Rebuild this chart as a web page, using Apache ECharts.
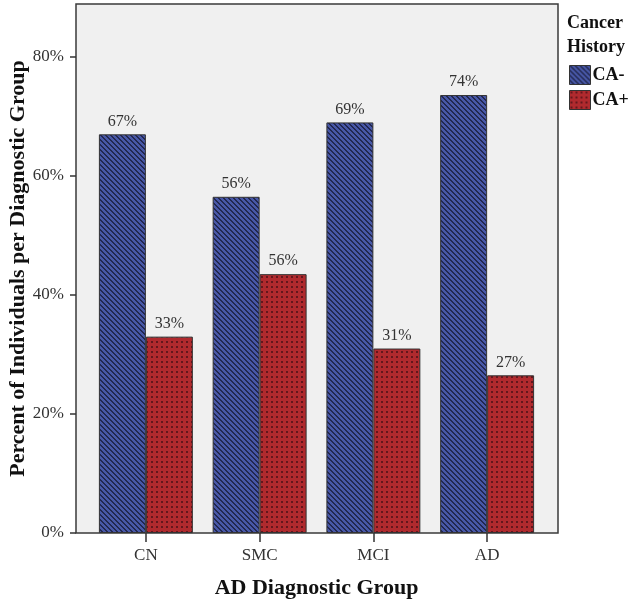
<!DOCTYPE html>
<html>
<head>
<meta charset="utf-8">
<script src="https://cdn.jsdelivr.net/npm/echarts@6/dist/echarts.min.js"></script>
<style>
html,body{margin:0;padding:0;background:#fff;}
#chart{width:630px;height:601px;}
</style>
</head>
<body>
<div id="chart"></div>
<script>
var categories = ['CN', 'SMC', 'MCI', 'AD'];
var caMinus = [67, 56.5, 69, 73.6];
var caPlus = [33, 43.5, 31, 26.5];
var caMinusLabels = ['67%', '56%', '69%', '74%'];
var caPlusLabels = ['33%', '56%', '31%', '27%'];
var yTicks = [0, 20, 40, 60, 80];

function makePattern(size, base, dark, isDark) {
  var c = document.createElement('canvas');
  c.width = size; c.height = size;
  var ctx = c.getContext('2d');
  var img = ctx.createImageData(size, size);
  for (var y = 0; y < size; y++) {
    for (var x = 0; x < size; x++) {
      var col = isDark(x, y) ? dark : base;
      var i = (y * size + x) * 4;
      img.data[i] = col[0]; img.data[i + 1] = col[1]; img.data[i + 2] = col[2]; img.data[i + 3] = 255;
    }
  }
  ctx.putImageData(img, 0, 0);
  return c;
}
var stripeCanvas = makePattern(5, [72, 88, 168], [34, 40, 80], function (x, y) {
  return (((x - y) % 5) + 5) % 5 < 2;
});
var dotCanvas = makePattern(5, [176, 42, 46], [100, 22, 28], function (x, y) {
  return x >= 1 && x <= 2 && y >= 1 && y <= 2;
});

var serif = '"Liberation Serif", "DejaVu Serif", serif';
var chart = echarts.init(document.getElementById('chart'));
chart.setOption({
  animation: false,
  backgroundColor: '#ffffff',
  textStyle: { fontFamily: serif },
  title: {
    text: 'Cancer\nHistory',
    left: 562, top: 6,
    textStyle: { fontFamily: serif, fontWeight: 'bold', fontSize: 18, lineHeight: 24, color: '#111' }
  },
  legend: {
    orient: 'vertical',
    left: 564, top: 60,
    itemWidth: 21, itemHeight: 19, itemGap: 5,
    icon: 'rect',
    itemStyle: { borderColor: '#333', borderWidth: 1 },
    textStyle: { fontFamily: serif, fontWeight: 'bold', fontSize: 18, color: '#111', padding: [0, 0, 0, -3] },
    data: ['CA-', 'CA+']
  },
  graphic: [{
    type: 'rect',
    z: -10,
    shape: { x: 76, y: 4, width: 482, height: 529 },
    style: { fill: '#f0f0f0', stroke: '#3a3a3a', lineWidth: 1.5 }
  }],
  grid: { left: 89, right: 86, top: 4, bottom: 68, containLabel: false, outerBoundsMode: 'none' },
  xAxis: {
    type: 'category',
    data: categories,
    name: 'AD Diagnostic Group',
    nameLocation: 'middle',
    nameGap: 44,
    nameMoveOverlap: false,
    nameTextStyle: { fontFamily: serif, fontWeight: 'bold', fontSize: 22, color: '#111' },
    axisLine: { show: false },
    axisTick: { show: true, alignWithLabel: true, length: 9, lineStyle: { color: '#333', width: 1.5 } },
    axisLabel: { fontFamily: serif, fontSize: 17, color: '#333', margin: 14 }
  },
  yAxis: {
    type: 'value',
    min: 0, max: 88.9,
    offset: 13,
    name: 'Percent of Individuals per Diagnostic Group',
    nameLocation: 'middle',
    nameGap: 47,
    nameMoveOverlap: false,
    nameTextStyle: { fontFamily: serif, fontWeight: 'bold', fontSize: 22, color: '#111' },
    axisLine: { show: false },
    axisTick: { show: true, length: 6, customValues: yTicks, lineStyle: { color: '#333', width: 1.5 } },
    axisLabel: { fontFamily: serif, fontSize: 17, color: '#333', margin: 12, customValues: yTicks, formatter: '{value}%' },
    splitLine: { show: false }
  },
  series: [{
    name: 'CA-',
    type: 'bar',
    data: caMinus,
    barGap: '0%',
    barCategoryGap: '17.4%',
    itemStyle: { color: { image: stripeCanvas, repeat: 'repeat' }, borderColor: '#333', borderWidth: 1 },
    label: {
      show: true, position: 'top', distance: 5,
      fontFamily: serif, fontSize: 16, color: '#333',
      formatter: function (p) { return caMinusLabels[p.dataIndex]; }
    }
  }, {
    name: 'CA+',
    type: 'bar',
    data: caPlus,
    itemStyle: { color: { image: dotCanvas, repeat: 'repeat' }, borderColor: '#333', borderWidth: 1 },
    label: {
      show: true, position: 'top', distance: 5,
      fontFamily: serif, fontSize: 16, color: '#333',
      formatter: function (p) { return caPlusLabels[p.dataIndex]; }
    }
  }]
});
</script>
</body>
</html>
